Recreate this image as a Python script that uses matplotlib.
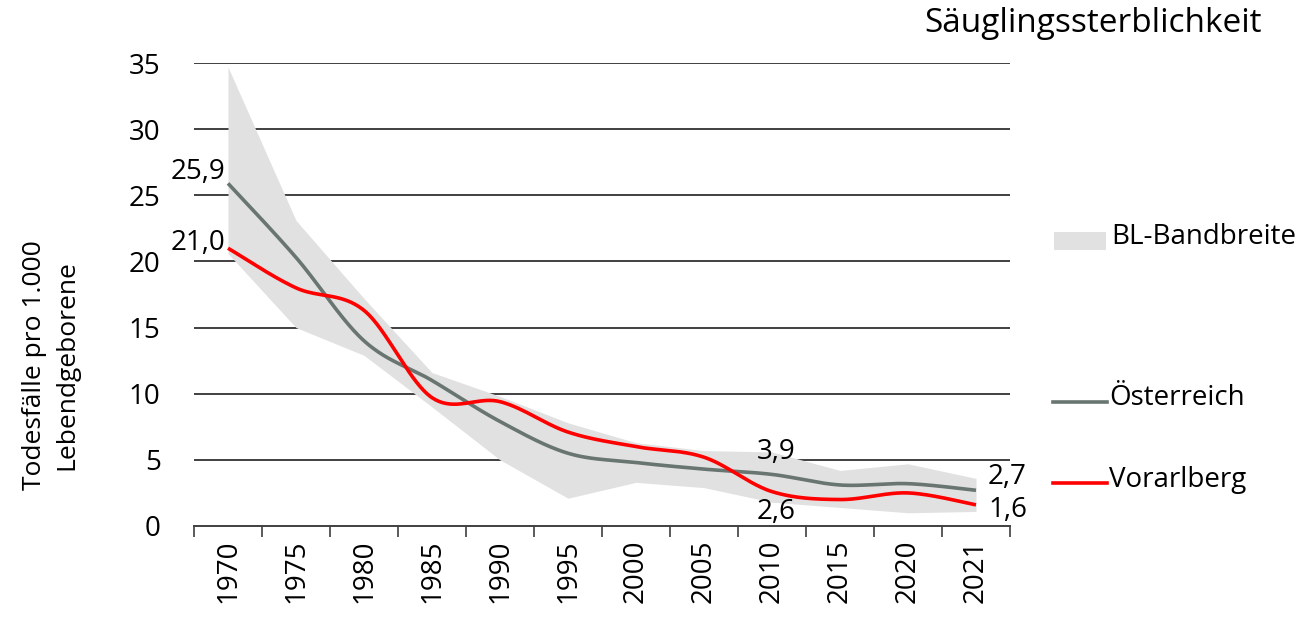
import numpy as np
import matplotlib
matplotlib.use("Agg")
import matplotlib.pyplot as plt
from matplotlib.lines import Line2D
from matplotlib.patches import Rectangle

plt.rcParams['font.family'] = ['Open Sans', 'DejaVu Sans']

years = ['1970', '1975', '1980', '1985', '1990', '1995',
         '2000', '2005', '2010', '2015', '2020', '2021']
oesterreich = [25.9, 20.3, 14.0, 11.0, 7.9, 5.5, 4.8, 4.3, 3.9, 3.1, 3.2, 2.7]
vorarlberg = [21.0, 18.0, 16.3, 9.7, 9.4, 7.1, 6.0, 5.2, 2.6, 2.0, 2.5, 1.6]
band_low = [20.6, 15.0, 12.9, 9.0, 5.0, 2.1, 3.3, 2.9, 1.8, 1.4, 1.0, 1.1]
band_high = [34.7, 23.1, 17.2, 11.6, 9.8, 7.8, 6.3, 5.7, 5.6, 4.2, 4.7, 3.6]

GREY = '#687570'
RED = '#ff0000'
BAND = '#e1e1e1'
FS = 20


def smooth(y, n=40):
    # bezier smoothing through every point (catmull-rom style control points)
    y = np.asarray(y, float)
    x = np.arange(len(y), dtype=float)
    px = np.concatenate([[x[0]], x, [x[-1]]])
    py = np.concatenate([[y[0]], y, [y[-1]]])
    xs, ys = [], []
    t = np.linspace(0, 1, n)
    for i in range(len(y) - 1):
        p0 = np.array([px[i + 1], py[i + 1]])
        p3 = np.array([px[i + 2], py[i + 2]])
        p1 = p0 + (np.array([px[i + 2], py[i + 2]]) - np.array([px[i], py[i]])) / 6
        p2 = p3 - (np.array([px[i + 3], py[i + 3]]) - np.array([px[i + 1], py[i + 1]])) / 6
        b = ((1 - t) ** 3)[:, None] * p0 + (3 * (1 - t) ** 2 * t)[:, None] * p1 \
            + (3 * (1 - t) * t ** 2)[:, None] * p2 + (t ** 3)[:, None] * p3
        xs.append(b[:, 0])
        ys.append(b[:, 1])
    return np.concatenate(xs), np.concatenate(ys)


def fmt(v):
    return f"{v:.1f}".replace('.', ',')


def label(text, xy, dx, dy, ha):
    # offsets given in pixels
    ax.annotate(text, xy, xytext=(dx * 0.72, dy * 0.72), textcoords='offset points',
                ha=ha, va='center', fontsize=FS)


W, H = 1316, 621
fig = plt.figure(figsize=(W / 100, H / 100), dpi=100)
ax = fig.add_axes([194 / W, 95 / H, 816 / W, 463 / H])

x = np.arange(len(years))
ax.fill_between(x, band_low, band_high, color=BAND, linewidth=0, zorder=1)

for yv in range(5, 40, 5):
    ax.axhline(yv, color='#404040', lw=1.4, zorder=0.5)

sx, sy = smooth(oesterreich)
ax.plot(sx, sy, color=GREY, lw=2.6, zorder=3, solid_capstyle='butt')
sx, sy = smooth(vorarlberg)
ax.plot(sx, sy, color=RED, lw=2.6, zorder=4, solid_capstyle='butt')

ax.set_xlim(-0.5, len(years) - 0.5)
ax.set_ylim(0, 35)
for s in ['top', 'right', 'left']:
    ax.spines[s].set_visible(False)
ax.spines['bottom'].set_color('#404040')
ax.spines['bottom'].set_linewidth(1.4)

ax.set_xticks(x)
ax.set_xticklabels(years, rotation=90, fontsize=FS)
ax.set_xticks(np.arange(-0.5, len(years)), minor=True)
ax.tick_params(axis='x', which='major', length=0, pad=10)
ax.tick_params(axis='x', which='minor', length=8, width=1.2, color='#404040')
ax.set_yticks(range(0, 40, 5))
ax.tick_params(axis='y', length=0, pad=24, labelsize=FS)

fig.text(51 / W, 1 - 365 / H, 'Todesfälle pro 1.000\nLebendgeborene',
         rotation=90, ha='center', va='center', multialignment='center',
         fontsize=19, linespacing=1.4)

# value labels
label(fmt(oesterreich[0]), (0, oesterreich[0]), -3, 11, 'right')
label(fmt(vorarlberg[0]), (0, vorarlberg[0]), -3, 5, 'right')
label(fmt(oesterreich[8]), (8, oesterreich[8]), 4, 22, 'center')
label(fmt(vorarlberg[8]), (8, vorarlberg[8]), 4, -20, 'center')
label(fmt(oesterreich[-1]), (11, oesterreich[-1]), 12, 13, 'left')
label(fmt(vorarlberg[-1]), (11, vorarlberg[-1]), 12, -5, 'left')

fig.text(1262 / W, 1 - 23 / H, 'Säuglingssterblichkeit', ha='right',
         va='center', fontsize=24)

# legend
fig.add_artist(Rectangle((1054 / W, 1 - 250 / H), 52 / W, 18 / H,
                         transform=fig.transFigure, color=BAND, lw=0))
fig.text(1111 / W, 1 - 237 / H, 'BL-Bandbreite', va='center', fontsize=FS)
fig.add_artist(Line2D([1053 / W, 1107 / W], [1 - 402 / H] * 2,
                      transform=fig.transFigure, color=GREY, lw=2.6))
fig.text(1109 / W, 1 - 398 / H, 'Österreich', va='center', fontsize=FS)
fig.add_artist(Line2D([1053 / W, 1107 / W], [1 - 483 / H] * 2,
                      transform=fig.transFigure, color=RED, lw=2.6))
fig.text(1109 / W, 1 - 480 / H, 'Vorarlberg', va='center', fontsize=FS)

fig.savefig('out.png', dpi=100)
